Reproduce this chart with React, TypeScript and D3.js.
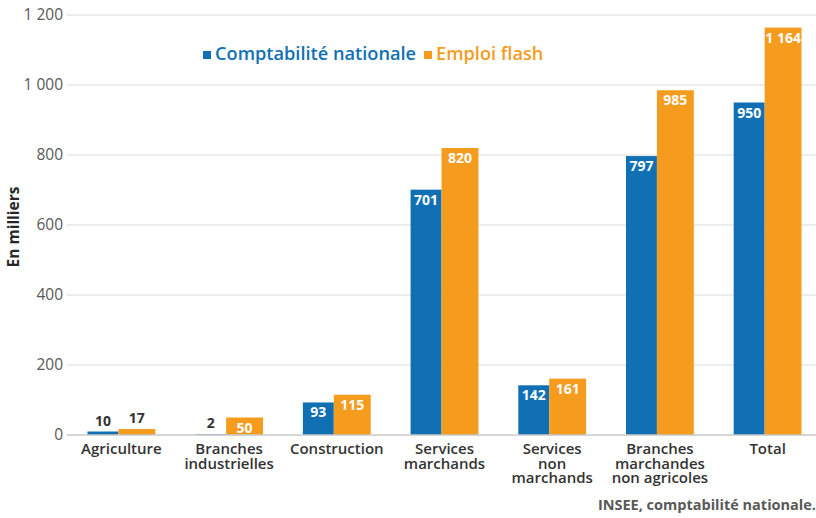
import { useEffect, useRef } from "react";
import * as d3 from "d3";

const categories = [
  ["Agriculture"],
  ["Branches", "industrielles"],
  ["Construction"],
  ["Services", "marchands"],
  ["Services", "non", "marchands"],
  ["Branches", "marchandes", "non agricoles"],
  ["Total"],
];
const comptaNationale = [10, 2, 93, 701, 142, 797, 950];
const emploiFlash = [17, 50, 115, 820, 161, 985, 1164];
const yTicks = [0, 200, 400, 600, 800, 1000, 1200];

const W = 816;
const H = 518;
const BLUE = "#1170b4";
const ORANGE = "#f59c1e";
const FONT = "'Open Sans', sans-serif";

const fmt = (n: number) => d3.format(",")(n).replace(/,/g, " ");

export default function App() {
  const svgRef = useRef<SVGSVGElement>(null);

  useEffect(() => {
    if (!svgRef.current) return;
    const svg = d3.select(svgRef.current);
    svg.selectAll("*").remove();

    const margin = { top: 15, right: 0, bottom: 83, left: 67 };
    const plotBottom = H - margin.bottom;

    const x = d3.scaleBand<number>()
      .domain(categories.map((_, i) => i))
      .range([margin.left, margin.left + 755])
      .paddingInner(0.37)
      .paddingOuter(0.19);
    const y = d3.scaleLinear().domain([0, 1200]).range([plotBottom, margin.top]);

    // bars of unequal width, like the original (blue narrower)
    const blueW = x.bandwidth() * 0.456;
    const orangeW = x.bandwidth() - blueW;

    // Grid
    svg.append("g")
      .selectAll("line")
      .data(yTicks.filter((d) => d > 0))
      .join("line")
      .attr("x1", margin.left).attr("x2", W)
      .attr("y1", (d) => y(d)).attr("y2", (d) => y(d))
      .attr("stroke", "#ddd9d6").attr("stroke-width", 1.2);

    // Y tick labels
    svg.append("g")
      .selectAll("text")
      .data(yTicks)
      .join("text")
      .attr("x", margin.left - 4)
      .attr("y", (d) => y(d))
      .attr("dy", "0.35em")
      .attr("text-anchor", "end")
      .style("font-family", FONT).style("font-size", "15.5px").style("fill", "#595959")
      .text((d) => fmt(d));

    // Y title
    svg.append("text")
      .attr("transform", `translate(19,${(margin.top + plotBottom) / 2 + 2}) rotate(-90)`)
      .attr("text-anchor", "middle")
      .style("font-family", FONT).style("font-size", "15.5px").style("font-weight", "700").style("fill", "#262626")
      .text("En milliers");

    // Legend
    const legend = svg.append("g").attr("transform", "translate(203,54)");
    const items = [
      { label: "Comptabilité nationale", color: BLUE, dx: 0 },
      { label: "Emploi flash", color: ORANGE, dx: 221 },
    ];
    items.forEach((it) => {
      const lg = legend.append("g").attr("transform", `translate(${it.dx},0)`);
      lg.append("rect").attr("x", 0).attr("y", -3).attr("width", 8).attr("height", 8).attr("fill", it.color);
      lg.append("text").attr("x", 12).attr("y", 0).attr("dy", "0.35em")
        .style("font-family", FONT).style("font-size", "18.2px").style("font-weight", "600").style("fill", it.color)
        .text(it.label);
    });

    const series = [
      { values: comptaNationale, color: BLUE, off: 0, w: blueW },
      { values: emploiFlash, color: ORANGE, off: blueW, w: orangeW },
    ];

    series.forEach((s) => {
      const g = svg.append("g");
      g.selectAll("rect")
        .data(s.values)
        .join("rect")
        .attr("x", (_, i) => (x(i) ?? 0) + s.off)
        .attr("width", s.w)
        .attr("y", (d) => y(d))
        .attr("height", (d) => plotBottom - y(d))
        .attr("fill", s.color);

      g.selectAll("text")
        .data(s.values)
        .join("text")
        .attr("x", (_, i) => (x(i) ?? 0) + s.off + s.w / 2)
        .attr("y", (d) => (plotBottom - y(d) > 16 ? y(d) + 15 : y(d) - 6))
        .attr("text-anchor", "middle")
        .style("font-family", FONT).style("font-size", "14px").style("font-weight", "700")
        .style("fill", (d) => (plotBottom - y(d) > 16 ? "#ffffff" : "#333333"))
        .text((d) => fmt(d));
    });

    // Baseline
    svg.append("line")
      .attr("x1", margin.left).attr("x2", W)
      .attr("y1", plotBottom).attr("y2", plotBottom)
      .attr("stroke", "#c8c8c8").attr("stroke-width", 1.5);

    // Category labels
    const cl = svg.append("g");
    categories.forEach((lines, i) => {
      const cx = (x(i) ?? 0) + x.bandwidth() / 2;
      const t = cl.append("text")
        .attr("x", cx)
        .attr("y", plotBottom + 19)
        .attr("text-anchor", "middle")
        .style("font-family", FONT).style("font-size", "15px").style("font-weight", "600").style("fill", "#333333");
      lines.forEach((l, j) => {
        t.append("tspan").attr("x", cx).attr("dy", j === 0 ? 0 : 14.5).text(l);
      });
    });

    // Source
    svg.append("text")
      .attr("x", W).attr("y", 510)
      .attr("text-anchor", "end")
      .style("font-family", FONT).style("font-size", "14.5px").style("font-weight", "700").style("fill", "#595959")
      .text("INSEE, comptabilité nationale.");
  }, []);

  return (
    <svg
      ref={svgRef}
      width={W}
      height={H}
      style={{ position: "absolute", left: 0, top: 0, background: "#ffffff" }}
    />
  );
}
